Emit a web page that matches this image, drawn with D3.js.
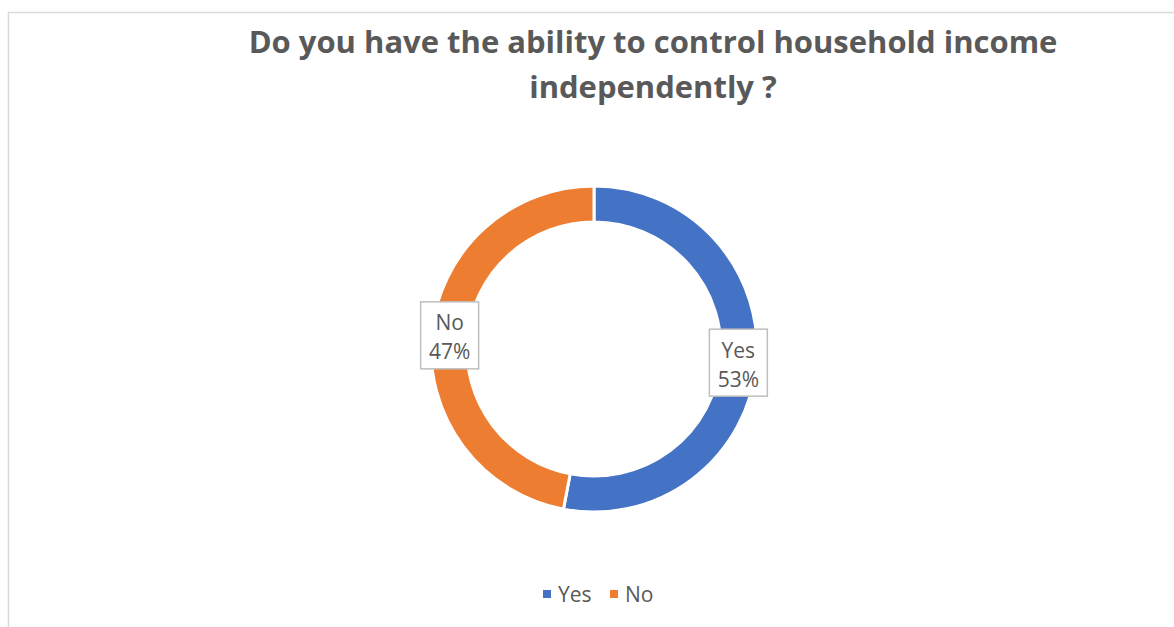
<!DOCTYPE html>
<html>
<head>
<meta charset="utf-8">
<script src="https://cdn.jsdelivr.net/npm/d3@7"></script>
<style>
  html, body { margin: 0; padding: 0; background: #fff; }
  svg { display: block; }
</style>
</head>
<body>
<svg id="chart" width="1174" height="627"></svg>
<script>
// Survey answers
const categories = ["Yes", "No"];
const shares = [53, 47];
const colors = ["#4472C4", "#ED7D31"];
const titleLines = ["Do you have the ability to control household income", "independently ?"];

const W = 1174, H = 627;
const svg = d3.select("#chart");
const font = "'Open Sans', 'Liberation Sans', sans-serif";
const textGrey = "#595959";

// chart frame
svg.append("rect")
  .attr("x", 8.5).attr("y", 12.5)
  .attr("width", W + 20).attr("height", H + 20)
  .attr("fill", "#fff").attr("stroke", "#d9d9d9").attr("stroke-width", 1.5);

// title
const title = svg.append("g");
const titleY = [53, 98];
titleLines.forEach((t, i) => {
  title.append("text")
    .attr("x", 653).attr("y", titleY[i])
    .attr("text-anchor", "middle")
    .attr("font-family", font).attr("font-weight", 700)
    .attr("font-size", 30).attr("fill", textGrey)
    .text(t);
});
// fit the first line to its width
const t0 = title.select("text").node();
const w0 = t0.getComputedTextLength();
const fs = 30 * 809 / w0;
title.selectAll("text").attr("font-size", fs);

// donut
const cx = 594, cy = 349, rOuter = 163, rInner = 127;
const data = categories.map((c, i) => ({ cat: c, value: shares[i], color: colors[i] }));
const pie = d3.pie().value(d => d.value).sort(null);
const arc = d3.arc().innerRadius(rInner).outerRadius(rOuter);
const labelArc = d3.arc().innerRadius(145).outerRadius(145);

const g = svg.append("g").attr("transform", `translate(${cx},${cy})`);
const arcs = pie(data);
g.selectAll("path.slice").data(arcs).join("path")
  .attr("class", "slice")
  .attr("d", arc)
  .attr("fill", d => d.data.color)
  .attr("stroke", "#fff").attr("stroke-width", 3);

// data labels with boxes
const boxW = 58, boxH = 67;
const lbl = g.selectAll("g.lbl").data(arcs).join("g")
  .attr("class", "lbl")
  .attr("transform", d => { const [x, y] = labelArc.centroid(d); return `translate(${x},${y})`; });
lbl.append("rect")
  .attr("x", -boxW / 2).attr("y", -boxH / 2)
  .attr("width", boxW).attr("height", boxH)
  .attr("fill", "#fff").attr("stroke", "#bfbfbf").attr("stroke-width", 1.5);
lbl.append("text")
  .attr("text-anchor", "middle").attr("y", -5)
  .attr("font-family", font).attr("font-size", 21).attr("fill", textGrey)
  .text(d => d.data.cat);
lbl.append("text")
  .attr("text-anchor", "middle").attr("y", 24)
  .attr("font-family", font).attr("font-size", 21).attr("fill", textGrey)
  .text(d => d.data.value + "%");

// legend
const legend = svg.append("g");
const legendX = [543, 610];
data.forEach((d, i) => {
  legend.append("rect")
    .attr("x", legendX[i]).attr("y", 590).attr("width", 8).attr("height", 8)
    .attr("fill", d.color);
  legend.append("text")
    .attr("x", legendX[i] + 15).attr("y", 602)
    .attr("font-family", font).attr("font-size", 21).attr("fill", textGrey)
    .text(d.cat);
});
</script>
</body>
</html>
